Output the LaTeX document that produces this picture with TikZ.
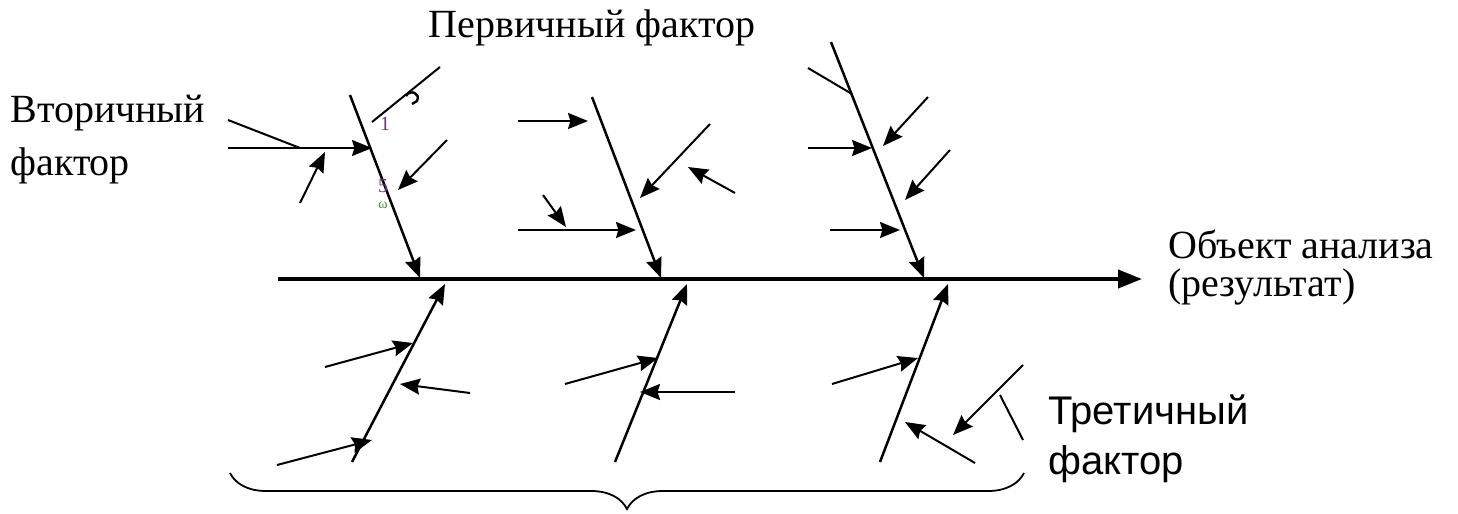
\documentclass[tikz,border=0pt]{standalone}
\usepackage{fontspec}
\setmainfont{Liberation Serif}
\newfontfamily\tertfont{Liberation Sans}
\usetikzlibrary{arrows.meta,decorations.pathreplacing}

\definecolor{markpurple}{RGB}{95,60,125}
\definecolor{markgreen}{RGB}{60,140,60}

\begin{document}
\begin{tikzpicture}[x=0.5pt, y=-0.5pt,
    >={Stealth[length=10pt, width=8pt, inset=1.2pt]},
    bone/.style={->, line width=1.25pt},
    twig/.style={->, line width=1pt},
    plain/.style={line width=1pt},
    lbl/.style={font=\fontsize{20}{24}\selectfont, inner sep=0pt, align=left}]
    \useasboundingbox (0,0) rectangle (1458,514);

    % spine
    \coordinate (tail) at (278,279);
    \coordinate (head) at (1142,279);
    \draw[line width=2pt, -{Triangle[length=12pt, width=9pt]}] (tail) -- (head);

    % primary bones, upper row
    \coordinate (u1) at (350,95);   \coordinate (u1e) at (420,278);
    \coordinate (u2) at (592,97);   \coordinate (u2e) at (661,278);
    \coordinate (u3) at (831,42);   \coordinate (u3e) at (924,278);
    \draw[bone] (u1) -- (u1e);
    \draw[bone] (u2) -- (u2e);
    \draw[bone] (u3) -- (u3e);

    % primary bones, lower row
    \coordinate (d1) at (352,462);  \coordinate (d1e) at (445,284);
    \coordinate (d2) at (615,462);  \coordinate (d2e) at (687,284);
    \coordinate (d3) at (880,462);  \coordinate (d3e) at (948,284);
    \draw[bone] (d1) -- (d1e);
    \draw[bone] (d2) -- (d2e);
    \draw[bone] (d3) -- (d3e);

    % upper left bone
    \draw[twig] (228,148) -- (372,148);
    \draw[plain] (228,120) -- (300,148);
    \draw[twig] (300,203) -- (325,152);
    \draw[plain] (440,67) -- (372,122);
    \draw[twig] (447,140) -- (398,190);
    % stray marks of the source drawing
    \node[text=markpurple, font=\fontsize{10}{10}\selectfont, inner sep=0pt] (m1) at (385,124) {1};
    \draw[line width=1.2pt] (406,96) .. controls (410,89) and (421,93) .. (417,101) -- (412,104);
    \node[text=markpurple, font=\fontsize{10}{10}\selectfont, inner sep=0pt] (m5) at (383,186) {5};
    \node[text=markgreen, font=\fontsize{7}{7}\selectfont, inner sep=0pt] (mw) at (383,205) {ω};

    % upper middle bone
    \draw[twig] (518,121) -- (588,121);
    \draw[twig] (710,124) -- (640,198);
    \draw[twig] (735,193) -- (688,167);
    \draw[twig] (518,230) -- (636,230);
    \draw[twig] (543,195) -- (566,227);

    % upper right bone
    \draw[plain] (808,68) -- (852,94);
    \draw[twig] (808,148) -- (872,148);
    \draw[twig] (928,97) -- (883,146);
    \draw[twig] (950,150) -- (905,200);
    \draw[twig] (830,230) -- (900,230);

    % lower bones
    \draw[twig] (325,367) -- (413,343);
    \draw[twig] (470,393) -- (400,384);
    \draw[twig] (277,465) -- (372,440);

    \draw[twig] (565,384) -- (658,358);
    \draw[twig] (735,392) -- (640,392);

    \draw[twig] (832,384) -- (918,358);
    \draw[twig] (975,463) -- (905,422);
    \draw[twig] (1023,365) -- (953,435);
    \draw[plain] (1000,395) -- (1023,440);

    % brace under the lower bones
    \coordinate (bl) at (230,473);
    \coordinate (br) at (1024,473);
    \draw[line width=0.9pt, decorate, decoration={brace, mirror, amplitude=18pt}] (bl) -- (br);

    % labels
    \node[lbl] (prim) at (592,28) {Первичный фактор};
    \node[lbl, font=\fontsize{20}{26.5}\selectfont, anchor=north west] (sec) at (10,95) {Вторичный\\фактор};
    \node[lbl, font=\fontsize{20}{19}\selectfont, anchor=north west] (obj) at (1168,229) {Объект анализа\\(результат)};
    \node[lbl, font=\tertfont\fontsize{20}{25}\selectfont, anchor=north west] (ter) at (1048,394) {Третичный\\фактор};
\end{tikzpicture}
\end{document}
